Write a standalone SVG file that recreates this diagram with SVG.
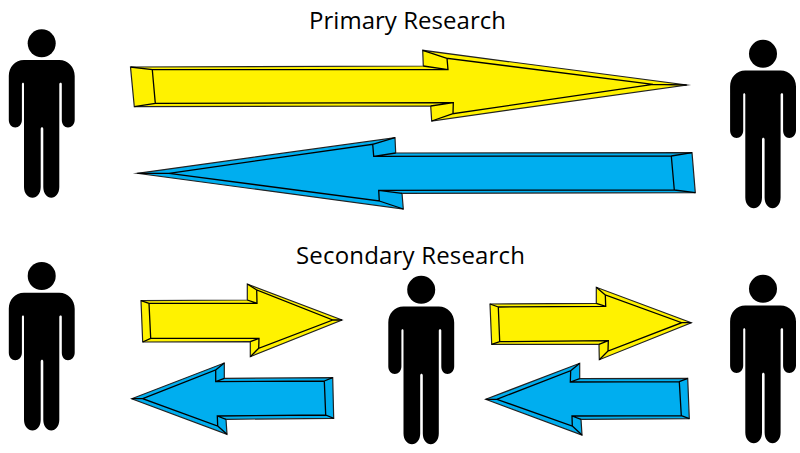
<svg xmlns="http://www.w3.org/2000/svg" width="800" height="453" viewBox="0 0 800 453">
<style>
.t{font-family:"Open Sans","Noto Sans",sans-serif;font-size:24px;fill:#000;text-anchor:middle}
.y{fill:#FFF200}
.b{fill:#00AEEF}
.o{stroke:#222;stroke-width:1.2;stroke-linejoin:miter;stroke-miterlimit:20}
.i{fill:none;stroke:#000;stroke-width:1.3}
</style>
<defs>
<g id="person">
<circle cx="41.7" cy="43.3" r="14"/>
<path d="M24 60H59.3C68 60 74.7 67 74.7 76V120C74.7 124.500 71.500 127.500 68 127.500C64.500 127.500 61.800 124.500 61.800 120V84C61.800 82.300 59.500 82.300 59.300 84V187C59.300 193.500 55.500 197.700 51.300 197.700C47 197.700 43.300 193.500 43.300 187V129C43.300 126.500 40.700 126.500 40.700 129V187C40.700 193.500 37 197.700 32.500 197.700C28 197.700 24 193.500 24 187V84C24 82.300 22.100 82.300 21.900 84V120C21.900 124.500 18.800 127.500 15.300 127.500C11.800 127.500 8.800 124.500 8.800 120V76C8.800 67 15 60 24 60Z"/>
</g>
</defs>
<text class="t" x="407.500" y="29" textLength="197">Primary Research</text>
<text class="t" x="410.500" y="264" textLength="229">Secondary Research</text>
<g id="person-1"><use href="#person"/></g>
<g id="person-2"><use href="#person" x="721.300" y="10.500"/></g>
<g id="person-3"><use href="#person" y="232.700"/></g>
<g id="person-4"><use href="#person" x="379.500" y="246.500"/></g>
<g id="person-5"><use href="#person" x="721.300" y="245.500"/></g>
<g id="connectors">
<g id="arrow-primary-right">
<path class="y o" d="M130.500 67L423.300 66L422.700 50.300L686.700 85L431.700 121L430.700 106L134.300 106.700Z"/>
<path class="i" d="M152.300 69.700H448L447 58.300L653 84.300L453 113.700L453.300 102.700L155.300 103.300ZM130.500 67L152.300 69.700M134.300 106.700L155.300 103.300M422.700 50.300L447 58.300M423.300 66L448 69.700M431.700 121L453 113.700M430.700 106L453.300 102.700M686.700 85L653 84.300"/>
</g>
<g id="arrow-primary-left">
<path class="b o" d="M137.300 173.300L395 137.700L395.700 153L692 152.700L695.300 192.700L402 193.300L403.300 209Z"/>
<path class="i" d="M169 173.300L372.700 144.300L373.700 156.300L671.300 156L674.300 190L378.700 190.300L379.300 201ZM692 152.700L671.300 156M695.300 192.700L674.300 190M395 137.700L372.700 144.300M395.700 153L373.700 156.300M403.300 209L379.300 201M402 193.300L378.700 190.300M137.300 173.300L169 173.300"/>
</g>
<g id="arrow-secondary-1-right">
<path class="y o" d="M141 300.700L247.300 300L247.300 284L342 320L250.300 356.700L250.300 341.700L142.700 342Z"/>
<path class="i" d="M149 303.300L257 303.300L256.700 290L332.700 320L258.700 348.300L259 338.300L150.700 338.300ZM141 300.700L149 303.300M142.700 342L150.700 338.300M247.300 284L256.700 290M247.300 300L257 303.300M250.300 356.700L258.700 348.300M250.300 341.700L259 338.300M342 320L332.700 320"/>
</g>
<g id="arrow-secondary-1-left">
<path class="b o" d="M131.700 398.700L224.300 363L224.300 378.300L332.700 377.700L333.700 418.300L226 419.300L227 434.300Z"/>
<path class="i" d="M142.700 398.700L215.700 370L215.700 381.700L324.300 381L325.700 415L217.300 416L217.700 426ZM332.700 377.700L324.300 381M333.700 418.300L325.700 415M224.300 363L215.700 370M224.300 378.300L215.700 381.700M227 434.300L217.700 426M226 419.300L217.300 416M131.700 398.700L142.700 398.700"/>
</g>
<g id="arrow-secondary-2-right">
<path class="y o" d="M490 304L596.300 303.300L596.300 287.300L691.300 322.700L599.300 359.700L599 344.300L491.700 344.300Z"/>
<path class="i" d="M498.300 307L605.700 306.300L605.300 295L681.700 322.700L608 351L608.300 340.700L499.700 341.700ZM490 304L498.300 307M491.700 344.300L499.700 341.700M596.300 287.300L605.300 295M596.300 303.300L605.700 306.300M599.300 359.700L608 351M599 344.300L608.300 340.700M691.300 322.700L681.700 322.700"/>
</g>
<g id="arrow-secondary-2-left">
<path class="b o" d="M485.700 399.300L579.700 363.300L579.700 378.700L687.700 378.300L689.300 418.700L581 419.300L582 435Z"/>
<path class="i" d="M496.700 399.300L570.700 370.700L570.300 382L679.300 381.700L681.300 415.700L572 416L572.300 426ZM687.700 378.300L679.300 381.700M689.300 418.700L681.300 415.700M579.700 363.300L570.700 370.700M579.700 378.700L570.300 382M582 435L572.300 426M581 419.300L572 416M485.700 399.300L496.700 399.300"/>
</g>
</g>
</svg>
